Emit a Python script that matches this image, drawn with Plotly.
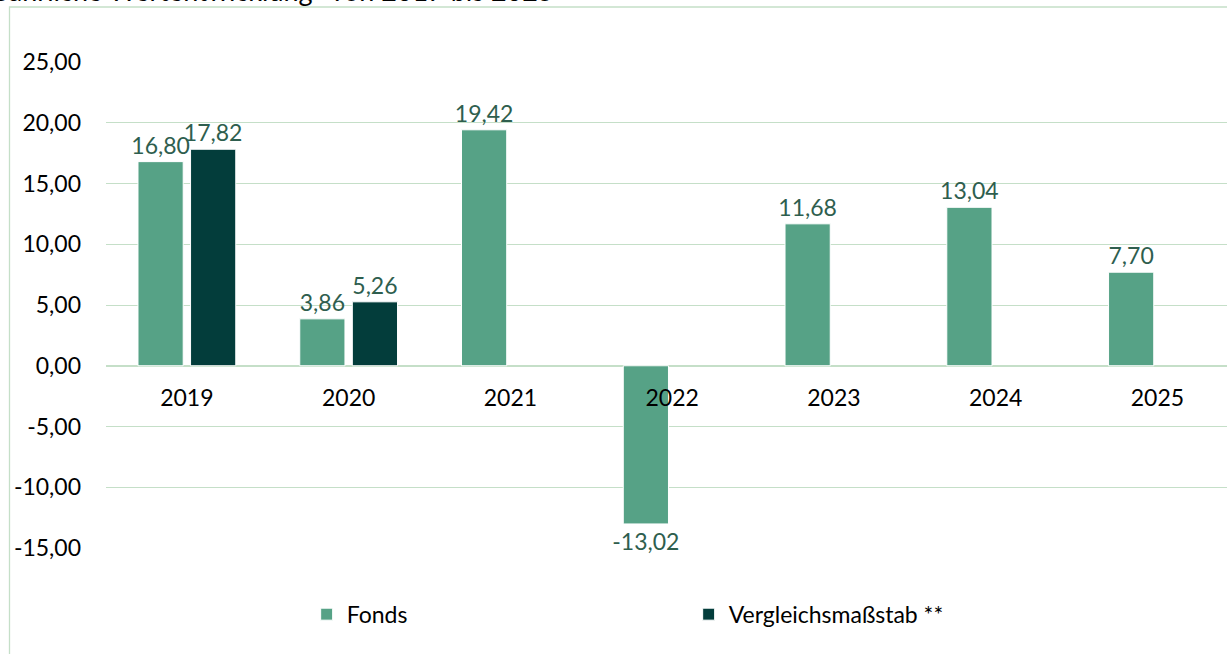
import plotly.graph_objects as go

years = ["2019", "2020", "2021", "2022", "2023", "2024", "2025"]
fonds = [16.80, 3.86, 19.42, -13.02, 11.68, 13.04, 7.70]
vergleich = [17.82, 5.26, None, None, None, None, None]
y_ticks = [-15, -10, -5, 0, 5, 10, 15, 20, 25]
title_text = "Jährliche Wertentwicklung* von 2017 bis 2025"


def de(v):
    return f"{v:.2f}".replace(".", ",")


W, H = 1227, 654
L, T, B = 106, 62, 106
plot_h = H - T - B
zero_pos = (15 / 40)
FS = 23

fig = go.Figure()
label_font = dict(family="Lato", size=FS, color="#2E5E4E")
fig.add_trace(go.Bar(
    x=years, y=fonds, name="Fonds",
    marker=dict(color="#56A286", line=dict(width=1, color="white")),
    text=[de(v) for v in fonds], textposition="outside", constraintext="none",
    textfont=label_font, cliponaxis=False,
))
fig.add_trace(go.Bar(
    x=years, y=vergleich, name="Vergleichsmaßstab **",
    marker=dict(color="#033D3B", line=dict(width=1, color="white")),
    text=[de(v) if v is not None else "" for v in vergleich], textposition="outside",
    constraintext="none", textfont=label_font, cliponaxis=False,
))

fig.update_layout(
    width=W, height=H,
    margin=dict(l=L, r=0, t=T, b=B, pad=0),
    paper_bgcolor="white", plot_bgcolor="white",
    barmode="group", bargap=0.35, bargroupgap=0.14,
    separators=",.",
    font=dict(family="Lato", size=FS, color="#000000"),
    legend=dict(orientation="h", x=0.179, xanchor="left", y=-0.092, yanchor="top",
                entrywidth=337, entrywidthmode="pixels", font=dict(size=FS, color="#000"),
                itemwidth=30, traceorder="normal"),
    showlegend=True,
)
fig.update_yaxes(range=[-15, 25], tickvals=y_ticks, ticktext=[de(v) for v in y_ticks],
                 showgrid=True, gridcolor="#C5DFC8", gridwidth=1.3,
                 zeroline=True, zerolinecolor="#C5DFC8", zerolinewidth=1.5,
                 showline=False, ticks="", ticklabelstandoff=24,
                 tickfont=dict(family="Lato", size=FS, color="#000"))
fig.update_xaxes(range=[-0.5, 6.43], anchor="free", position=zero_pos,
                 showgrid=False, showline=False, zeroline=False, ticks="",
                 ticklabelstandoff=16, tickfont=dict(family="Lato", size=FS, color="#000"))

# frame
fig.add_shape(type="rect", xref="paper", yref="paper",
              x0=(9.5 - L) / (W - L), x1=1.02, y0=(H - B - 670) / plot_h, y1=(H - B - 7) / plot_h,
              line=dict(color="#C5DFC8", width=1.3), fillcolor="rgba(0,0,0,0)", layer="below")

fig.add_annotation(text=title_text, xref="paper", yref="paper",
                   x=(-4 - L) / (W - L), xanchor="left",
                   y=(H - B - 9.5) / plot_h, yanchor="bottom",
                   showarrow=False, font=dict(family="Lato", size=27, color="#000"))

fig.write_html("out.html", config={"displayModeBar": False},
               post_script="document.body.style.margin='0';document.body.style.overflow='hidden';")
